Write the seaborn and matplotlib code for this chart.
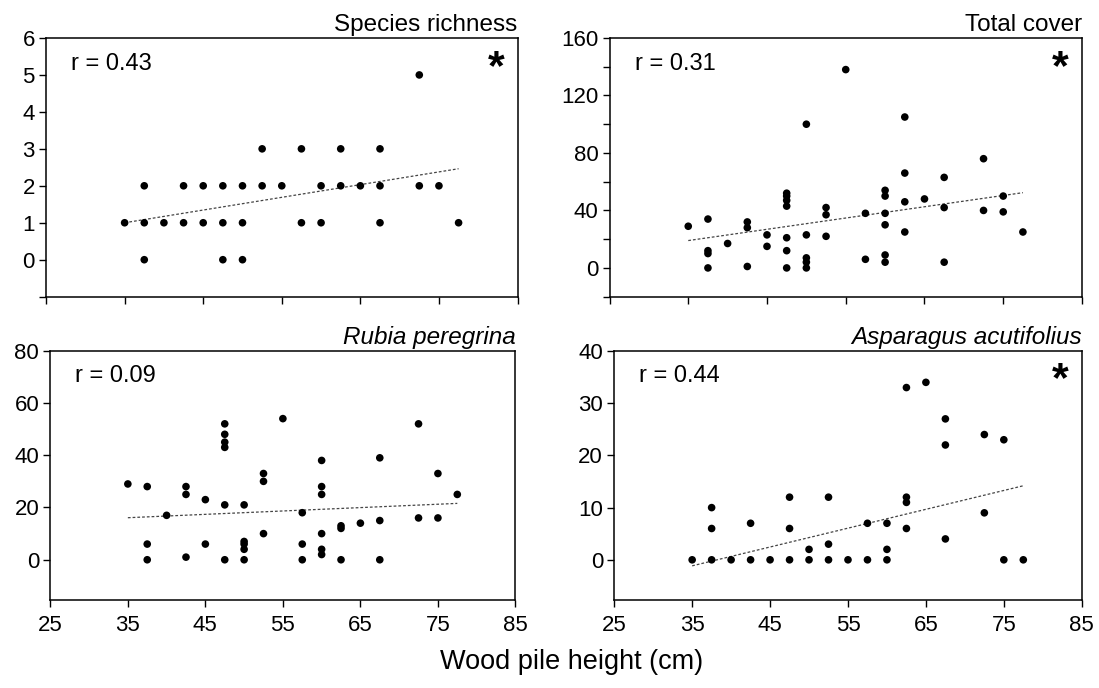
import matplotlib
matplotlib.use("Agg")
import matplotlib.pyplot as plt
import seaborn as sns
import pandas as pd
import numpy as np

# ---- data (x = wood pile height, cm) ----
rich_x = [35, 37.5, 37.5, 37.5, 40, 42.5, 42.5, 45, 45, 47.5, 47.5, 47.5, 50, 50, 50,
          52.5, 52.5, 55, 57.5, 57.5, 60, 60, 62.5, 62.5, 65, 67.5, 67.5, 67.5,
          72.5, 72.5, 75, 77.5]
rich_y = [1, 0, 1, 2, 1, 1, 2, 1, 2, 0, 1, 2, 0, 1, 2,
          2, 3, 2, 1, 3, 1, 2, 2, 3, 2, 1, 2, 3,
          2, 5, 2, 1]

cover_x = [35, 37.5, 37.5, 37.5, 37.5, 40, 42.5, 42.5, 42.5, 45, 45,
           47.5, 47.5, 47.5, 47.5, 47.5, 47.5, 47.5, 50, 50, 50, 50, 50,
           52.5, 52.5, 52.5, 55, 57.5, 57.5, 60, 60, 60, 60, 60, 60,
           62.5, 62.5, 62.5, 62.5, 65, 67.5, 67.5, 67.5, 72.5, 72.5, 75, 75, 77.5]
cover_y = [29, 34, 12, 10, 0, 17, 32, 28, 1, 23, 15,
           52, 50, 47, 43, 21, 12, 0, 100, 23, 7, 4, 0,
           42, 37, 22, 138, 38, 6, 54, 50, 38, 30, 9, 4,
           105, 66, 46, 25, 48, 63, 42, 4, 76, 40, 50, 39, 25]

rubia_x = [35, 37.5, 37.5, 37.5, 40, 42.5, 42.5, 42.5, 45, 45,
           47.5, 47.5, 47.5, 47.5, 47.5, 47.5, 50, 50, 50, 50, 50,
           52.5, 52.5, 52.5, 55, 57.5, 57.5, 57.5, 60, 60, 60, 60, 60, 60,
           62.5, 62.5, 62.5, 65, 67.5, 67.5, 67.5, 72.5, 72.5, 75, 75, 77.5]
rubia_y = [29, 28, 6, 0, 17, 28, 25, 1, 23, 6,
           52, 48, 45, 43, 21, 0, 21, 7, 6, 4, 0,
           33, 30, 10, 54, 18, 6, 0, 38, 28, 25, 10, 4, 2,
           13, 12, 0, 14, 39, 15, 0, 52, 16, 33, 16, 25]

aspa_x = [35, 37.5, 37.5, 37.5, 40, 42.5, 42.5, 45, 47.5, 47.5, 47.5, 50, 50,
          52.5, 52.5, 52.5, 55, 57.5, 57.5, 60, 60, 60, 62.5, 62.5, 62.5, 62.5,
          65, 67.5, 67.5, 67.5, 72.5, 72.5, 75, 75, 77.5]
aspa_y = [0, 10, 6, 0, 0, 7, 0, 0, 12, 6, 0, 2, 0,
          12, 3, 0, 0, 7, 0, 7, 2, 0, 33, 12, 11, 6,
          34, 27, 22, 4, 24, 9, 23, 0, 0]

# fitted trend lines (slope, intercept)
fit_slope = [0.0344, 0.784, 0.129, 0.361]
fit_intercept = [-0.204, -8.4, 11.57, -13.79]

titles = ["Species richness", "Total cover", "Rubia peregrina", "Asparagus acutifolius"]
r_labels = ["r = 0.43", "r = 0.31", "r = 0.09", "r = 0.44"]
signif = [True, True, False, True]
x_ticks = [25, 35, 45, 55, 65, 75, 85]

sns.set_style("ticks")
plt.rcParams['font.family'] = ['Liberation Sans', 'DejaVu Sans']
plt.rcParams['axes.linewidth'] = 1.1
plt.rcParams['axes.edgecolor'] = 'black'
plt.rcParams['text.color'] = 'black'
plt.rcParams['xtick.color'] = 'black'
plt.rcParams['ytick.color'] = 'black'

fig = plt.figure(figsize=(10.99, 6.88), dpi=100)

boxes = [[0.0419, 0.5688, 0.4290, 0.3760],
         [0.5546, 0.5688, 0.4299, 0.3760],
         [0.0458, 0.1279, 0.4232, 0.3624],
         [0.5589, 0.1279, 0.4254, 0.3619]]

panels = [(rich_x, rich_y), (cover_x, cover_y), (rubia_x, rubia_y), (aspa_x, aspa_y)]
ylims = [(-1, 6), (-20, 160), (-15.4, 80), (-7.7, 40)]
yticks = [list(range(-1, 7)), list(range(-20, 161, 20)), [0, 20, 40, 60, 80], [0, 10, 20, 30, 40]]

for i, (xs, ys) in enumerate(panels):
    ax = fig.add_axes(boxes[i])
    df = pd.DataFrame({"height": xs, "value": ys})
    sns.scatterplot(data=df, x="height", y="value", ax=ax, s=30, color="black",
                    edgecolor="none", zorder=3)
    # trend line over the observed range
    xr = np.array([min(xs), max(xs)])
    fit = pd.DataFrame({"height": xr, "value": fit_slope[i] * xr + fit_intercept[i]})
    sns.lineplot(data=fit, x="height", y="value", ax=ax, color="#444444", lw=0.9,
                 linestyle=(0, (2.2, 1.6)), zorder=2)
    ax.set_xlim(25, 85)
    ax.set_ylim(*ylims[i])
    ax.set_xticks(x_ticks)
    ax.set_yticks(yticks[i])
    # labels only on some ticks
    if i == 0:
        ax.set_yticklabels(["" if t < 0 else str(t) for t in yticks[i]])
    elif i == 1:
        ax.set_yticklabels([str(t) if t >= 0 and t % 40 == 0 else "" for t in yticks[i]])
    if i < 2:
        ax.set_xticklabels([])
    ax.set_xlabel("")
    ax.set_ylabel("")
    ax.tick_params(direction="out", length=5, width=1, labelsize=16, pad=3)
    ax.tick_params(axis="x", pad=6)
    for sp in ax.spines.values():
        sp.set_visible(True)
    style = "italic" if i >= 2 else "normal"
    ax.set_title(titles[i], loc="right", fontsize=17.5, style=style, pad=5)
    ax.text(0.053, 0.9, r_labels[i], transform=ax.transAxes, fontsize=17,
            ha="left", va="center")
    if signif[i]:
        ax.text(0.955, 0.885, "*", transform=ax.transAxes, fontsize=31,
                fontweight="bold", ha="center", va="center")

fig.text(0.52, 0.038, "Wood pile height (cm)", ha="center", va="center", fontsize=19.5)

fig.savefig("out.png", dpi=100)
